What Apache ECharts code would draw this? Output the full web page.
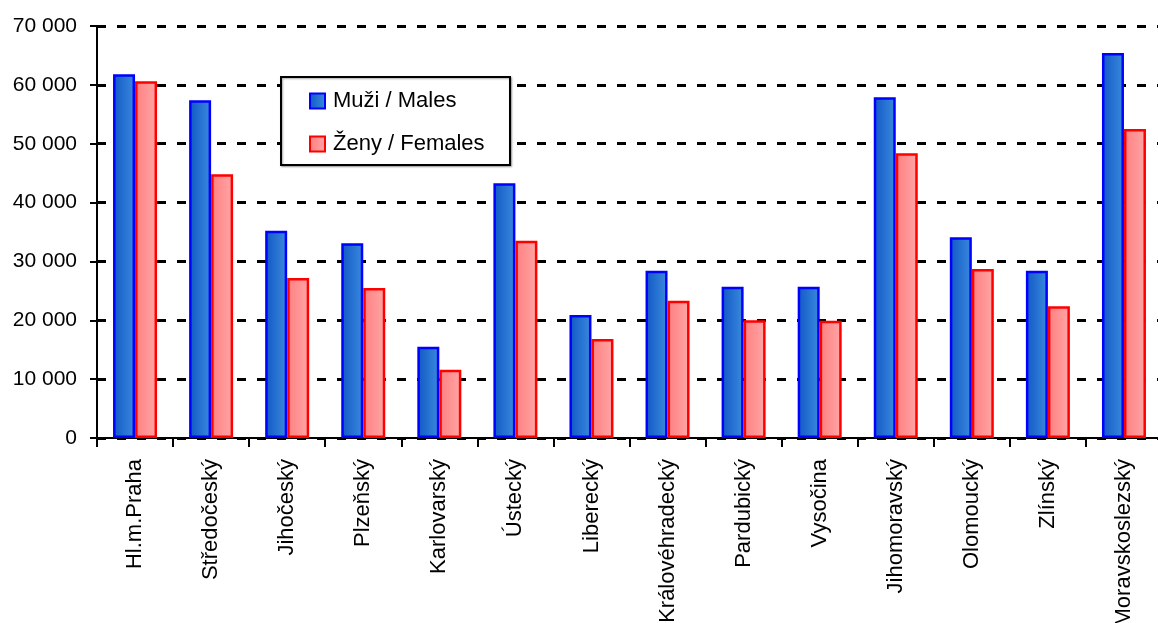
<!DOCTYPE html>
<html><head><meta charset="utf-8">
<script src="https://cdn.jsdelivr.net/npm/echarts@6/dist/echarts.min.js"></script>
<style>html,body{margin:0;padding:0;background:#fff}#c{width:1158px;height:623px}</style>
</head><body><div id="c"></div>
<script>
const categories = ['Hl.m.Praha','Středočeský','Jihočeský','Plzeňský','Karlovarský','Ústecký','Liberecký','Královéhradecký','Pardubický','Vysočina','Jihomoravský','Olomoucký','Zlínský','Moravskoslezský'];
const males = [61800,57400,35200,33100,15500,43300,20900,28400,25700,25700,57900,34100,28400,65400];
const females = [60600,44800,27200,25500,11600,33500,16800,23300,20000,19900,48400,28700,22400,52500];
const seriesNames = ['Muži / Males','Ženy / Females'];
const yTicks = {min:0,max:70000,interval:10000};

const font = '"Liberation Sans", Arial, sans-serif';
const chart = echarts.init(document.getElementById('c'));
const grad = (a,b)=>new echarts.graphic.LinearGradient(0,0,1,0,[{offset:0,color:a},{offset:1,color:b}]);
chart.setOption({
  animation:false,
  grid:{left:97,top:26,width:1065,bottom:185,containLabel:false,outerBoundsMode:'none'},
  graphic:[{type:'rect',left:280,top:76,z:50,shape:{width:229,height:88},
    style:{fill:'#fff',stroke:'#000',lineWidth:2,shadowColor:'rgba(0,0,0,0.35)',shadowBlur:2,shadowOffsetX:1,shadowOffsetY:1}}],
  legend:{
    orient:'vertical',left:301,top:88,z:60,
    padding:[2,0,0,8],itemGap:21,itemWidth:15,itemHeight:15,icon:'rect',
    textStyle:{fontFamily:font,fontSize:22,color:'#000',padding:[0,0,0,3]},
    itemStyle:{borderWidth:2}
  },
  xAxis:{type:'category',data:categories,
    axisLine:{lineStyle:{color:'#000',width:2}},
    axisTick:{show:true,length:9,lineStyle:{color:'#000',width:2},alignWithLabel:false},
    axisLabel:{rotate:90,fontFamily:font,fontSize:22,color:'#000',margin:21,interval:0}
  },
  yAxis:{type:'value',min:yTicks.min,max:yTicks.max,interval:yTicks.interval,
    axisLine:{show:true,lineStyle:{color:'#000',width:2}},
    axisTick:{show:true,length:7,lineStyle:{color:'#000',width:2}},
    axisLabel:{fontFamily:font,fontSize:21,color:'#000',margin:20,
      formatter:v=>String(v).replace(/\B(?=(\d{3})+(?!\d))/g,' ')},
    splitLine:{show:true,lineStyle:{color:'#000',width:3,type:[9,11]}}
  },
  series:[
    {name:seriesNames[0],type:'bar',data:males,barWidth:22,barGap:'0%',
     itemStyle:{color:grad('#1158c4','#3a8ade'),borderColor:'#0000ff',borderWidth:2.5}},
    {name:seriesNames[1],type:'bar',data:females,barWidth:22,barGap:'0%',
     itemStyle:{color:grad('#ff7f80','#ffa6a6'),borderColor:'#ff0000',borderWidth:2.5}}
  ]
});
</script></body></html>
